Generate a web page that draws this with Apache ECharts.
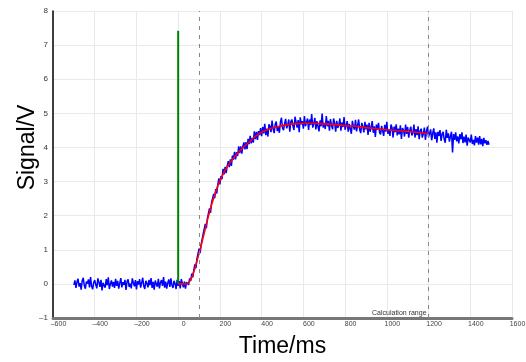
<!DOCTYPE html>
<html><head><meta charset="utf-8">
<script src="https://cdn.jsdelivr.net/npm/echarts@6/dist/echarts.min.js"></script>
<style>html,body{margin:0;padding:0;background:#fff}#c{width:526px;height:362px}</style>
</head><body><div id="c"></div>
<script>
const xTicks = [-600, 1600, 200];
const yTicks = [-1, 8, 1];
const signal = [
[-500,-0.03],[-495,0.10],[-490,-0.12],[-485,0.06],[-480,0.15],[-475,-0.08],[-470,0.02],[-465,-0.17],[-460,0.09],[-455,0.18],
[-450,-0.05],[-445,-0.14],[-440,0.07],[-435,0.01],[-430,0.13],[-425,-0.10],[-420,0.20],[-415,-0.07],[-410,-0.16],[-405,0.04],
[-400,0.11],[-395,-0.02],[-390,-0.13],[-385,0.16],[-380,0.05],[-375,-0.09],[-370,0.12],[-365,-0.19],[-360,0.03],[-355,0.08],
[-350,-0.11],[-345,0.14],[-340,-0.04],[-335,0.19],[-330,-0.15],[-325,0.00],[-320,0.10],[-315,-0.08],[-310,0.06],[-305,-0.12],
[-300,0.15],[-295,-0.06],[-290,0.09],[-285,-0.14],[-280,0.02],[-275,0.17],[-270,-0.10],[-265,0.05],[-260,-0.03],[-255,0.12],
[-250,-0.18],[-245,0.07],[-240,0.13],[-235,-0.09],[-230,0.01],[-225,-0.13],[-220,0.16],[-215,0.04],[-210,-0.07],[-205,0.11],
[-200,-0.16],[-195,0.08],[-190,-0.02],[-185,0.14],[-180,-0.11],[-175,0.03],[-170,0.18],[-165,-0.06],[-160,-0.15],[-155,0.09],
[-150,0.02],[-145,-0.10],[-140,0.12],[-135,-0.04],[-130,0.17],[-125,-0.12],[-120,0.06],[-115,-0.17],[-110,0.10],[-105,0.00],
[-100,-0.08],[-95,0.15],[-90,-0.13],[-85,0.04],[-80,0.11],[-75,-0.06],[-70,0.20],[-65,-0.11],[-60,0.07],[-55,-0.14],
[-50,0.03],[-45,0.13],[-40,-0.09],[-35,0.16],[-30,-0.03],[-25,-0.12],[-20,0.09],[-15,0.01],[-10,-0.15],[-5,0.12],
[0,-0.06],[5,0.08],[10,-0.13],[15,0.14],[20,0.02],[25,-0.10],[30,0.07],[35,-0.14],[40,0.05],
[45,0.05],[50,-0.03],[55,0.16],[60,0.09],[65,0.30],[70,0.19],[75,0.41],[80,0.57],[85,0.46],[90,0.74],
[95,0.74],[100,1.03],[105,0.90],[110,1.15],[115,1.16],[120,1.47],[125,1.44],[130,1.76],[135,1.63],[140,1.92],
[145,1.91],[150,2.21],[155,2.08],[160,2.38],[165,2.39],[170,2.64],[175,2.51],[180,2.78],[185,2.65],[190,2.92],
[195,3.09],[200,2.92],[205,3.16],[210,3.07],[215,3.37],[220,3.21],[225,3.43],[230,3.25],[235,3.46],[240,3.60],
[245,3.42],[250,3.65],[255,3.46],[260,3.76],[265,3.64],[270,3.87],[275,3.65],[280,3.86],[285,3.75],[290,4.03],
[295,3.83],[300,4.03],[305,3.82],[310,4.04],[315,4.15],[320,3.94],[325,4.16],[330,3.95],[335,4.25],[340,4.10],
[345,4.34],[350,4.12],[355,4.28],[360,4.14],[365,4.47],[370,4.24],[375,4.46],[380,4.22],[385,4.48],[390,4.36],
[395,4.57],[400,4.33],
[405,4.60],[410,4.41],[415,4.69],[420,4.36],[425,4.55],[430,4.32],[435,4.68],[440,4.62],[445,4.45],[450,4.79],
[455,4.54],[460,4.42],[465,4.68],[470,4.76],[475,4.48],[480,4.62],[485,4.43],[490,4.74],[495,4.87],[500,4.57],
[505,4.51],[510,4.70],[515,4.84],[520,4.56],[525,4.65],[530,4.82],[535,4.46],[540,4.76],[545,4.82],[550,4.63],
[555,4.51],[560,4.90],[565,4.74],[570,4.58],[575,4.80],[580,4.45],[585,4.88],[590,4.68],[595,4.77],[600,4.55],
[605,4.92],[610,4.62],[615,4.73],[620,4.85],[625,4.51],[630,4.82],[635,4.66],[640,4.98],[645,4.58],[650,4.70],
[655,4.87],[660,4.53],[665,4.77],[670,4.82],[675,4.47],[680,4.79],[685,4.62],[690,4.99],[695,4.58],[700,4.72],
[705,4.54],[710,4.92],[715,4.62],[720,4.78],[725,4.49],[730,4.83],[735,4.65],[740,4.53],[745,4.85],[750,4.72],
[755,4.46],[760,4.78],[765,4.57],[770,4.67],[775,4.85],[780,4.49],[785,4.73],[790,4.60],[795,4.89],[800,4.52],
[805,4.57],[810,4.77],[815,4.46],[820,4.69],[825,4.74],[830,4.40],[835,4.78],[840,4.61],[845,4.52],[850,4.81],
[855,4.47],[860,4.65],[865,4.82],[870,4.52],[875,4.42],[880,4.72],[885,4.61],[890,4.44],[895,4.75],[900,4.53],
[905,4.67],[910,4.37],[915,4.72],[920,4.46],[925,4.59],[930,4.77],[935,4.43],[940,4.62],[945,4.31],[950,4.67],
[955,4.52],[960,4.72],[965,4.45],[970,4.38],[975,4.63],[980,4.58],[985,4.34],[990,4.66],[995,4.46],[1000,4.75],
[1005,4.40],[1010,4.52],[1015,4.34],[1020,4.67],[1025,4.58],[1030,4.29],[1035,4.61],[1040,4.45],[1045,4.68],[1050,4.35],
[1055,4.55],[1060,4.38],[1065,4.65],[1070,4.25],[1075,4.57],[1080,4.50],[1085,4.32],[1090,4.67],[1095,4.40],[1100,4.60],
[1105,4.29],[1110,4.50],[1115,4.61],[1120,4.35],[1125,4.42],[1130,4.67],[1135,4.29],[1140,4.54],[1145,4.36],[1150,4.62],
[1155,4.24],[1160,4.48],[1165,4.55],[1170,4.29],[1175,4.40],[1180,4.58],[1185,4.22],[1190,4.48],[1195,4.61],[1200,4.30],
[1205,4.33],[1210,4.53],[1215,4.21],[1220,4.41],[1225,4.56],[1230,4.25],[1235,4.44],[1240,4.14],[1245,4.46],[1250,4.34],
[1255,4.51],[1260,4.19],[1265,4.39],[1270,4.46],[1275,4.24],[1280,4.14],[1285,4.52],[1290,4.28],[1295,4.41],[1300,4.17],
[1305,4.33],[1310,4.46],[1315,3.85],[1320,4.39],[1325,4.22],[1330,4.44],[1335,4.18],[1340,4.32],[1345,4.12],[1350,4.39],
[1355,4.24],[1360,4.44],[1365,4.13],[1370,4.32],[1375,4.15],[1380,4.38],[1385,4.05],[1390,4.29],[1395,4.34],[1400,4.15],
[1405,4.38],[1410,4.10],[1415,4.22],[1420,4.06],[1425,4.33],[1430,4.14],[1435,4.29],[1440,4.08],[1445,4.33],[1450,4.09],
[1455,4.25],[1460,4.04],[1465,4.28],[1470,4.12],[1475,4.21],[1480,4.08],[1485,4.19],[1490,4.08]
];
const fit = [
[0,0],[40,0],[50,0.03],[60,0.12],[70,0.27],[80,0.45],[90,0.67],[100,0.9],[110,1.12],[120,1.37],[130,1.62],[140,1.87],
[150,2.1],[160,2.32],[170,2.52],[180,2.7],[190,2.88],[200,3.03],[220,3.28],[240,3.48],[260,3.65],[280,3.8],[300,3.93],
[320,4.05],[340,4.16],[360,4.27],[380,4.37],[400,4.45],[450,4.57],[500,4.64],[550,4.69],[600,4.71],[650,4.71],[700,4.69],
[750,4.67],[800,4.64],[850,4.62],[900,4.58],[950,4.55],[1000,4.52],[1050,4.49],[1100,4.47],[1150,4.44],[1200,4.40]
];
const trigger = [[0,0],[0,7.42]];
const rangeLines = [100, 1200];
const rangeLabel = 'Calculation range';
const xName = 'Time/ms', yName = 'Signal/V';

const chart = echarts.init(document.getElementById('c'));
const fmt = v => String(v).replace('-', '\u2013');
chart.setOption({
  animation: false,
  grid: {left: 53, right: 14, top: 11, bottom: 44, outerBoundsMode: 'none', containLabel: false},
  xAxis: {
    type: 'value', min: xTicks[0], max: xTicks[1], interval: xTicks[2],
    name: xName, nameLocation: 'middle', nameGap: 17, nameMoveOverlap: false,
    nameTextStyle: {fontSize: 23, color: '#000', fontFamily: 'Liberation Sans'},
    axisLine: {onZero: false, lineStyle: {color: '#777', width: 3}},
    axisTick: {show: false},
    axisLabel: {fontSize: 7, color: '#444', margin: 3, padding: [0,0,0,11], formatter: fmt, fontFamily: 'Liberation Sans'},
    splitLine: {show: true, lineStyle: {color: '#e9e9e9', width: 1}}
  },
  yAxis: {
    type: 'value', min: yTicks[0], max: yTicks[1], interval: yTicks[2],
    name: yName, nameLocation: 'middle', nameGap: 14, nameMoveOverlap: false,
    nameTextStyle: {fontSize: 23, color: '#000', fontFamily: 'Liberation Sans', padding: [0, 0, 0, 34]},
    axisLine: {show: true, onZero: false, lineStyle: {color: '#000', width: 1.5}},
    axisTick: {show: false},
    axisLabel: {fontSize: 8, color: '#333', margin: 5, formatter: fmt, fontFamily: 'Liberation Sans'},
    splitLine: {show: true, lineStyle: {color: '#e9e9e9', width: 1}}
  },
  series: [
    {type: 'line', data: signal, symbol: 'none', lineStyle: {color: '#0000ff', width: 1.5}, z: 2,
     markLine: {symbol: 'none', silent: true, label: {show: false},
       lineStyle: {color: '#888', type: [4, 5], width: 1},
       data: rangeLines.map(v => ({xAxis: v}))}},
    {type: 'line', data: fit, symbol: 'none', lineStyle: {color: '#ff0000', width: 1.6}, z: 3,
     markPoint: {symbol: 'circle', symbolSize: 0, silent: true,
       label: {show: true, position: 'left', distance: 2, offset: [0, -5], formatter: rangeLabel,
               fontSize: 7, color: '#333', fontFamily: 'Liberation Sans'},
       data: [{coord: [rangeLines[1], yTicks[0]]}]}},
    {type: 'line', data: trigger, symbol: 'none', lineStyle: {color: '#008000', width: 2}, z: 4}
  ]
});
</script></body></html>
